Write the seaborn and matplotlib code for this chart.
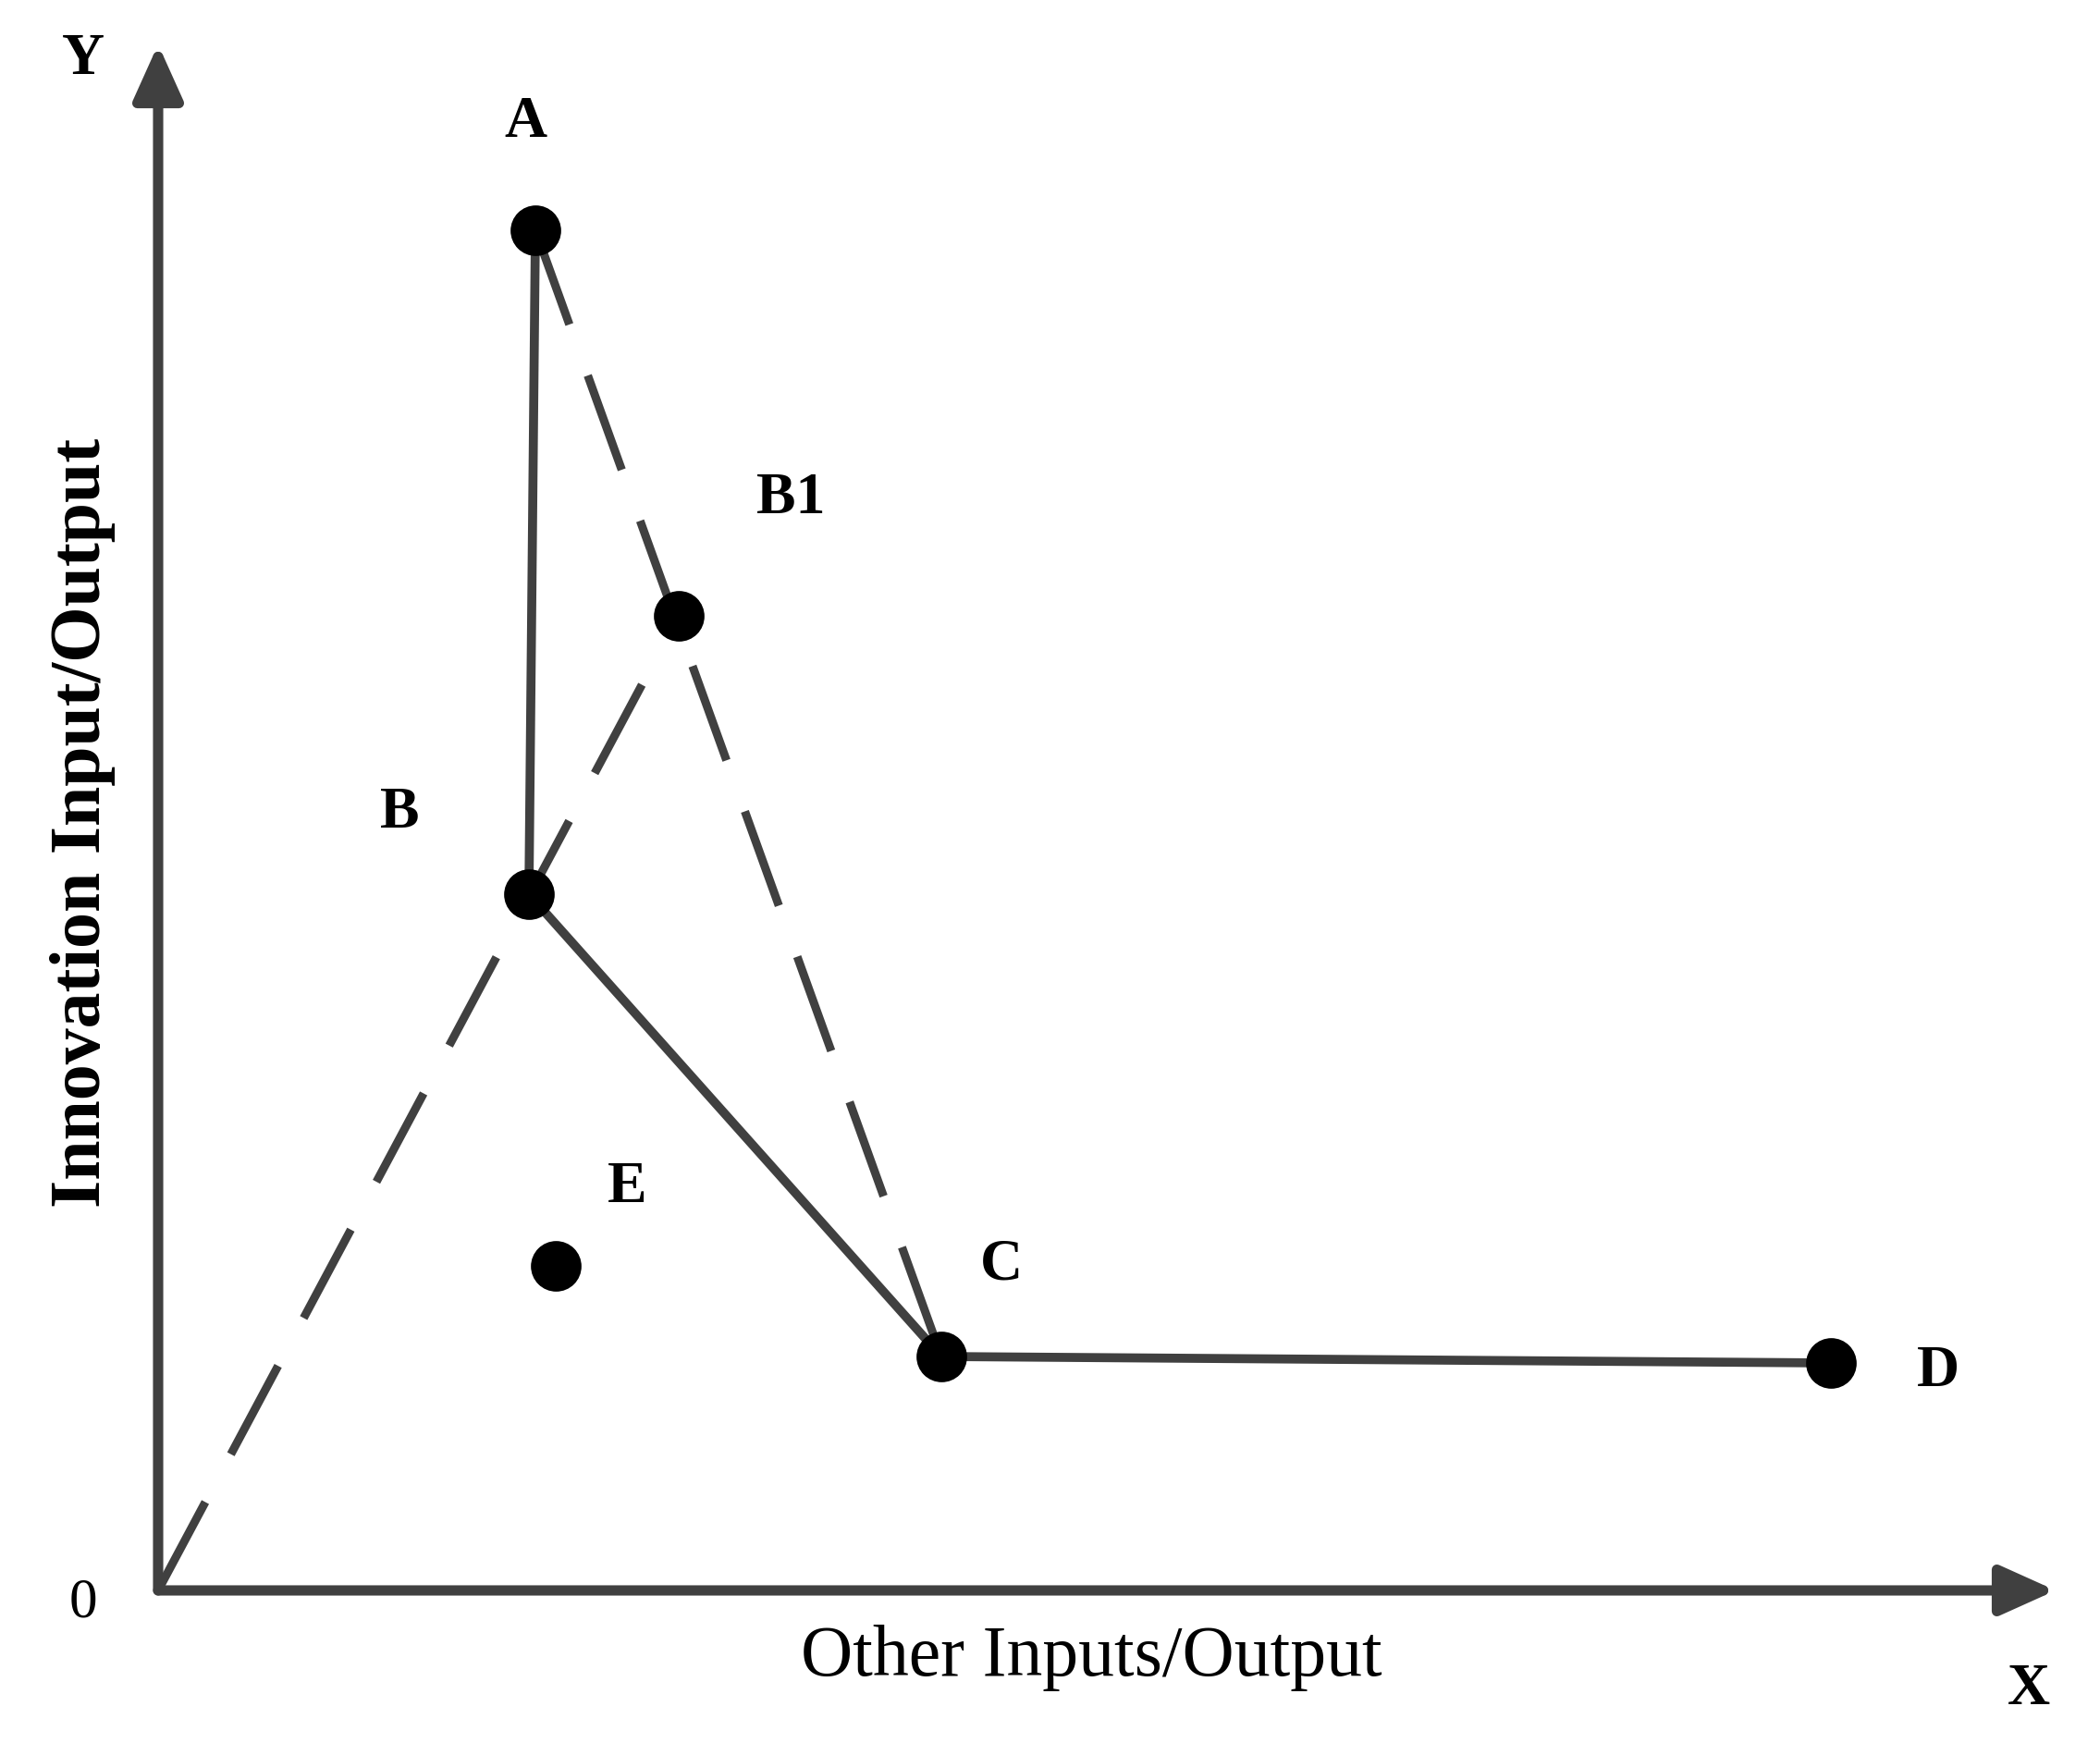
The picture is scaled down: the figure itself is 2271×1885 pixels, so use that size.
import pandas as pd
import seaborn as sns
import matplotlib.pyplot as plt

# Points (origin at the axis corner)
point_names = ['A', 'B1', 'B', 'E', 'C', 'D']
point_x = [4.08, 5.63, 4.01, 4.30, 8.47, 18.09]
point_y = [14.71, 10.54, 7.53, 3.51, 2.53, 2.46]

# Frontier (solid) and the two rays (dashed)
frontier = ['A', 'B', 'C', 'D']
ray_a_c = ['A', 'C']

pts = pd.DataFrame({'name': point_names, 'x': point_x, 'y': point_y}).set_index('name')

sns.set_style('white')
plt.rcParams['font.family'] = ['Liberation Serif', 'DejaVu Serif']
plt.rcParams['text.color'] = 'black'

fig = plt.figure(figsize=(22.71, 18.85), dpi=100)
ax = fig.add_axes([0, 0, 1, 1])
ax.set_xlim(-1.71, 21.00)
ax.set_ylim(-1.65, 17.20)
ax.axis('off')

line_col = '#404040'
dash = (0, (12, 6.5))

# solid frontier A-B-C-D
fr = pts.loc[frontier].reset_index()
sns.lineplot(data=fr, x='x', y='y', sort=False, estimator=None, color=line_col,
             lw=7, ax=ax, solid_capstyle='butt')

# dashed ray from origin through B to B1
ray1 = pd.DataFrame({'x': [0.0, pts.loc['B1', 'x']], 'y': [0.0, pts.loc['B1', 'y']]})
ax.plot(ray1['x'], ray1['y'], color=line_col, lw=6.5, linestyle=dash, dash_capstyle='butt')

# dashed line A to C
ray2 = pts.loc[ray_a_c]
ax.plot(ray2['x'], ray2['y'], color=line_col, lw=6.5, linestyle=dash, dash_capstyle='butt')

# dots
sns.scatterplot(data=pts.reset_index(), x='x', y='y', color='black', s=1550,
                edgecolor='black', linewidth=0, ax=ax, zorder=5)

# axes with arrows
arrow = dict(arrowstyle='-|>,head_length=1.0,head_width=0.45', color=line_col,
             lw=8, mutation_scale=36, shrinkA=0, shrinkB=0)
ax.annotate('', xy=(20.52, 0), xytext=(0, 0), arrowprops=arrow)
ax.annotate('', xy=(0, 16.72), xytext=(0, 0), arrowprops=arrow)

# point labels
label_offsets = {'A': (-0.11, 1.16), 'B1': (1.21, 1.26), 'B': (-1.40, 0.87),
                 'E': (0.77, 0.84), 'C': (0.65, 0.98), 'D': (1.16, -0.10)}
for name, (dx, dy) in label_offsets.items():
    ax.text(pts.loc[name, 'x'] + dx, pts.loc[name, 'y'] + dy, name, fontsize=46,
            fontweight='bold', ha='center', va='center', color='black')

ax.text(-0.81, 16.55, 'Y', fontsize=46, fontweight='bold', ha='center', va='center', color='black')
ax.text(20.23, -1.08, 'X', fontsize=46, fontweight='bold', ha='center', va='center', color='black')
ax.text(-0.81, -0.14, '0', fontsize=44, ha='center', va='center', color='black')
ax.text(10.09, -0.73, 'Other Inputs/Output', fontsize=56, ha='center', va='center', color='black')
ax.text(-0.81, 8.30, 'Innovation Input/Output', fontsize=56, fontweight='bold',
        rotation=90, ha='center', va='center', color='black')

fig.savefig('out.png', dpi=100)
